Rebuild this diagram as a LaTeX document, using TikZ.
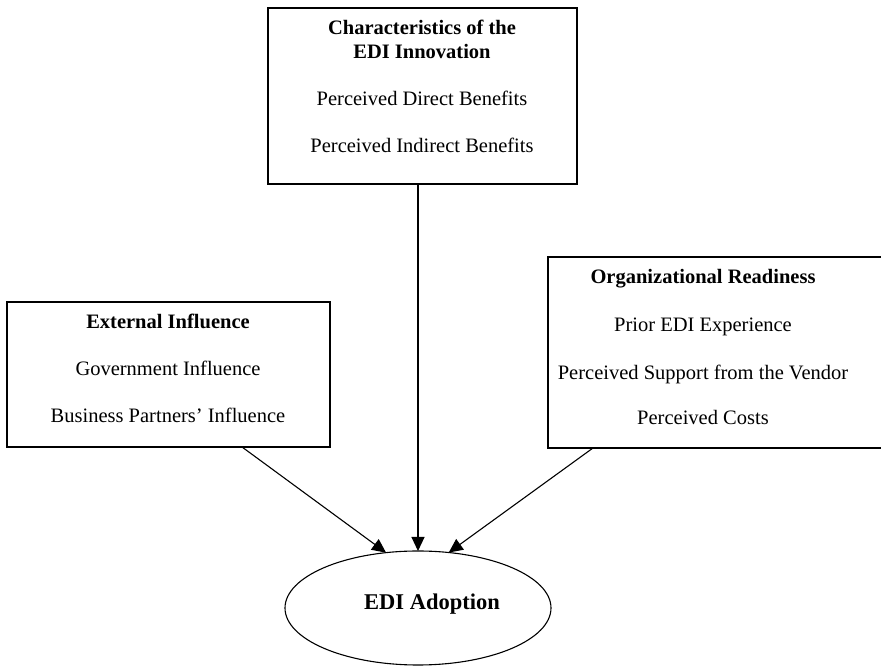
\documentclass[tikz,border=0pt]{standalone}
\usepackage{fontspec}
\setmainfont{Liberation Serif}
\usetikzlibrary{arrows.meta,shapes.geometric}
\begin{document}
\begin{tikzpicture}[x=1pt,y=1pt,line width=1.1pt,
		>={Triangle[length=14pt,width=13pt]},
		font=\fontsize{20.5}{24}\selectfont,
		factorbox/.style={draw,rectangle,inner sep=0pt,outer sep=0pt},
		heading/.style={anchor=base,inner sep=0pt,font=\fontsize{20.5}{24}\selectfont\bfseries},
		item/.style={anchor=base,inner sep=0pt}]
	\useasboundingbox (0,0) rectangle (881,666);
	\clip (0,0) rectangle (881,666);
	% cac khoi
	\node[factorbox,minimum width=309pt,minimum height=176pt] (innov) at (422.5,570) {};
	\node[factorbox,minimum width=323pt,minimum height=145pt] (ext) at (168.5,291.5) {};
	\node[factorbox,minimum width=352pt,minimum height=191pt] (ready) at (724,313.5) {};
	\node[draw,ellipse,inner sep=0pt,outer sep=0pt,minimum width=266pt,minimum height=114pt] (adopt) at (418,58) {};
	% chu trong khoi
	\node[heading] (innovT1) at (422,631) {Characteristics of the};
	\node[heading] (innovT2) at (422,607) {EDI Innovation};
	\node[item] (innovA) at (422,560) {Perceived Direct Benefits};
	\node[item] (innovB) at (422,513) {Perceived Indirect Benefits};
	\node[heading] (extT) at (168,337) {External Influence};
	\node[item] (extA) at (168,290) {Government Influence};
	\node[item] (extB) at (168,243) {Business Partners’ Influence};
	\node[heading] (readyT) at (703,382) {Organizational Readiness};
	\node[item] (readyA) at (703,334) {Prior EDI Experience};
	\node[item] (readyB) at (703,286) {Perceived Support from the Vendor};
	\node[item] (readyC) at (703,241) {Perceived Costs};
	\node[anchor=base,inner sep=0pt,font=\fontsize{22.5}{27}\selectfont\bfseries] (adoptT) at (432,56) {EDI Adoption};
	% mui ten
	\coordinate (extOut) at (242,219);
	\coordinate (readyOut) at (593,218);
	\draw[->] (innov.south -| adopt.north) -- (adopt.north);
	\draw[->] (extOut) -- (adopt.120);
	\draw[->] (readyOut) -- (adopt.61);
\end{tikzpicture}
\end{document}
